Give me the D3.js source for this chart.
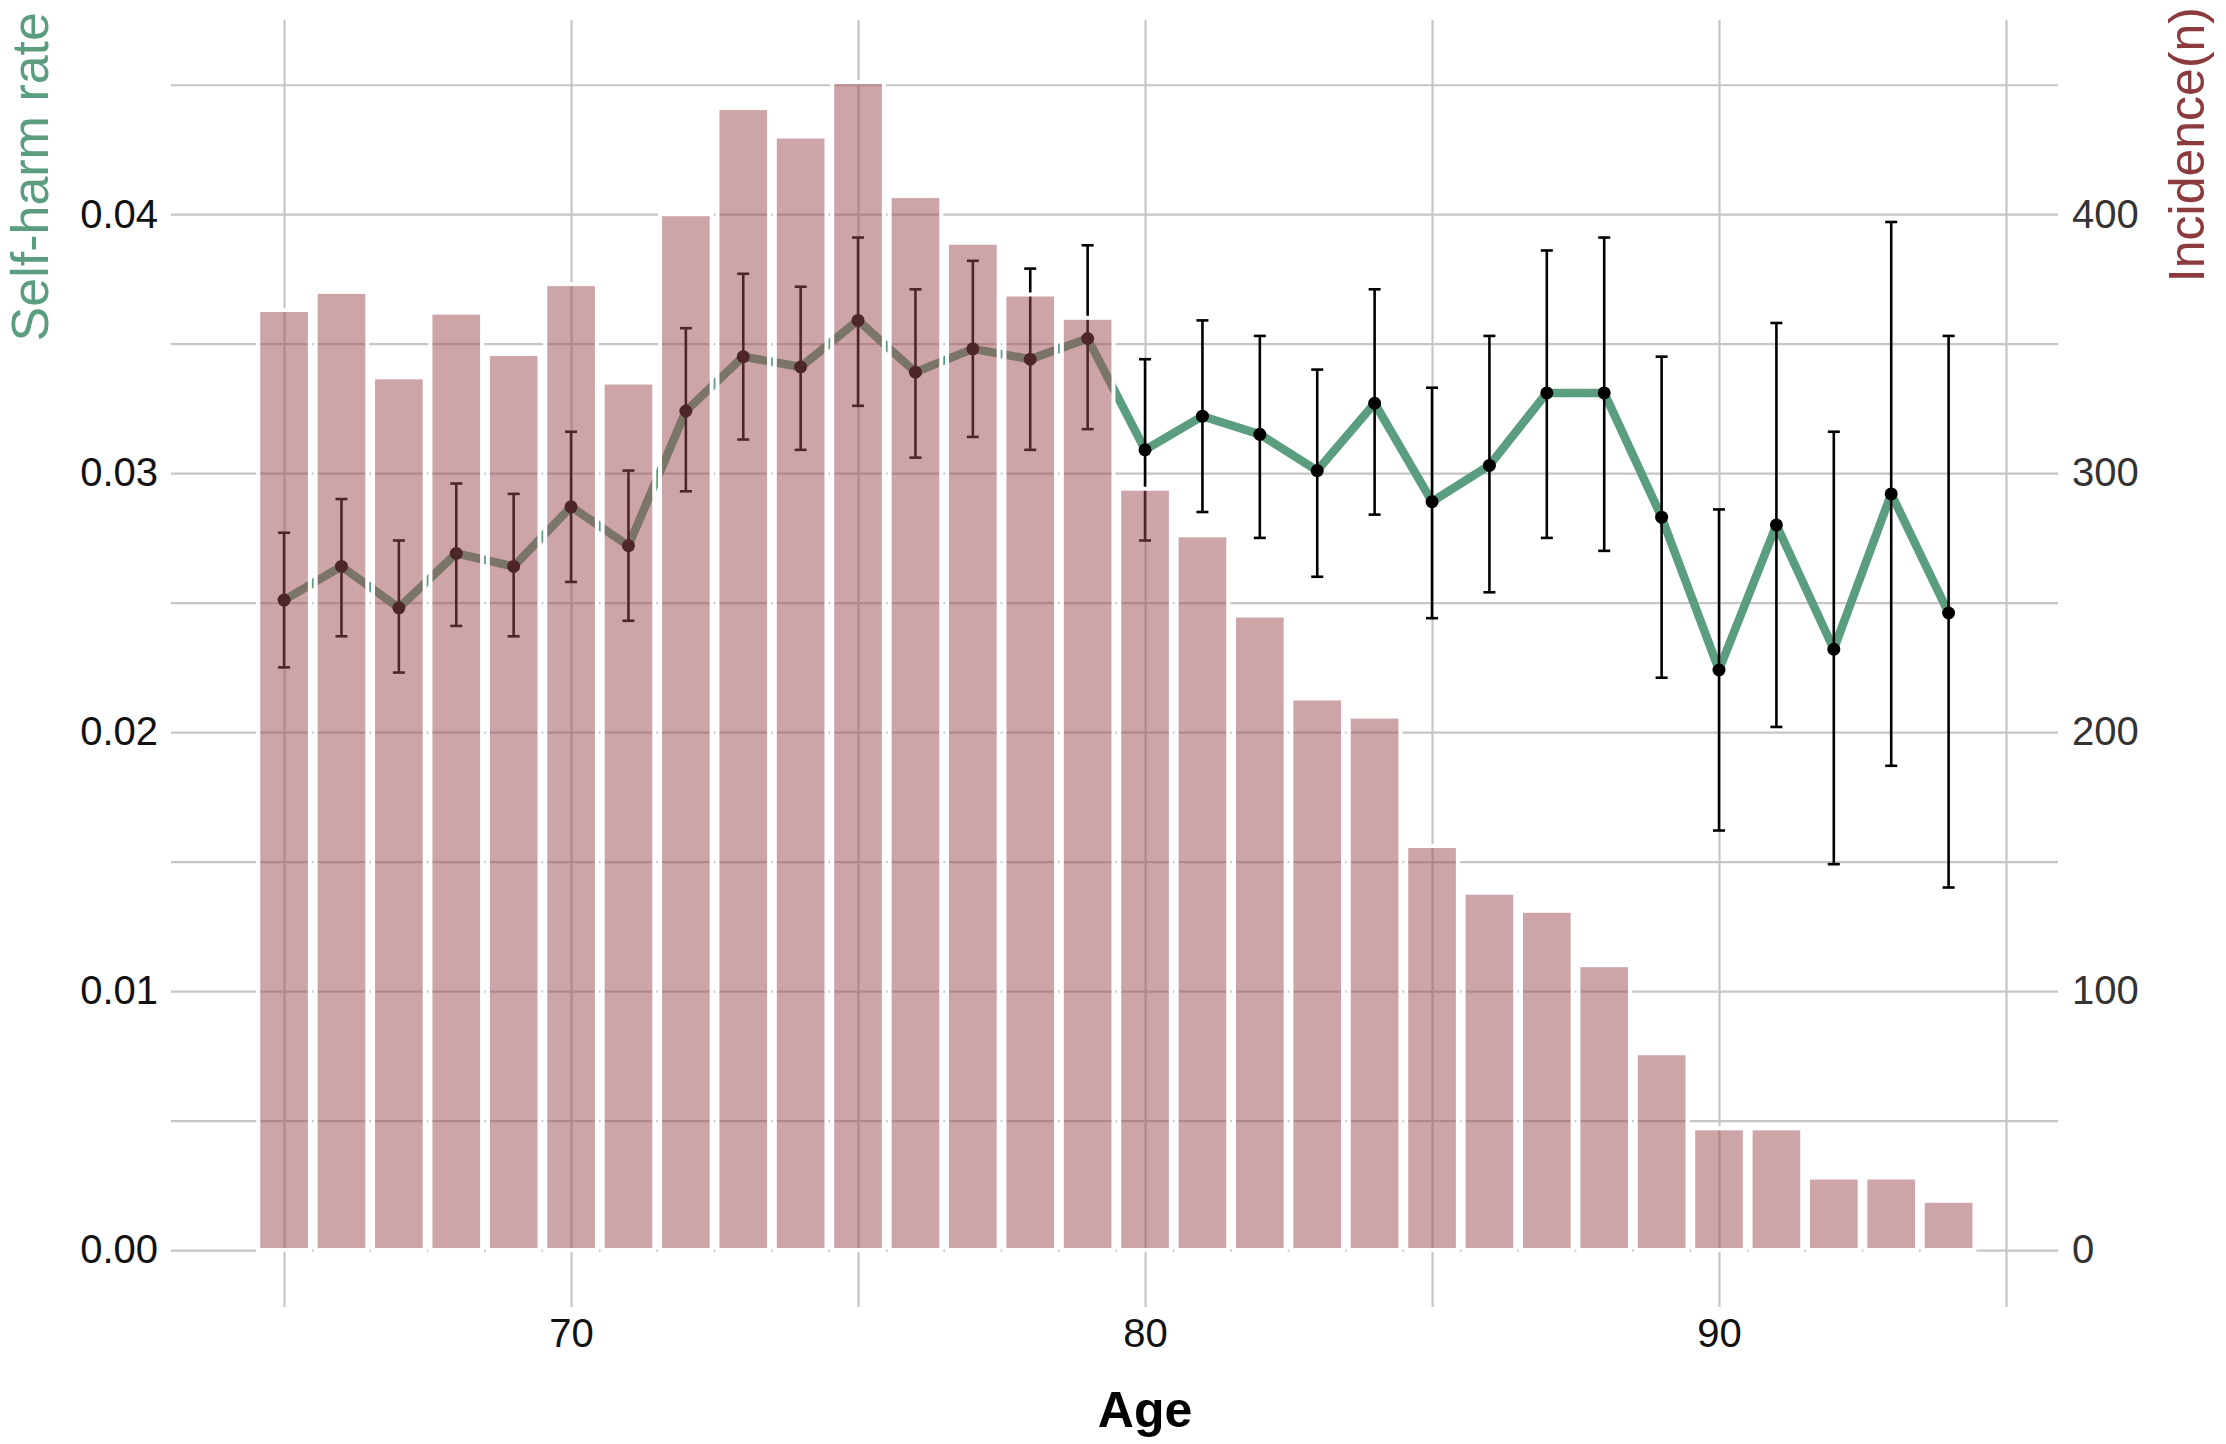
<!DOCTYPE html>
<html>
<head>
<meta charset="utf-8">
<script src="https://cdn.jsdelivr.net/npm/d3@7"></script>
<style>
  body { margin: 0; background: #fff; }
  text { font-family: "Liberation Sans", Arial, sans-serif; }
</style>
</head>
<body>
<div id="chart"></div>
<script>
const ages = [65, 66, 67, 68, 69, 70, 71, 72, 73, 74, 75, 76, 77, 78, 79,
              80, 81, 82, 83, 84, 85, 86, 87, 88, 89, 90, 91, 92, 93, 94];
const incidence = [363, 370, 337, 362, 346, 373, 335, 400, 441, 430, 451, 407, 389, 369, 360,
                   294, 276, 245, 213, 206, 156, 138, 131, 110, 76, 47, 47, 28, 28, 19];
const rate = [0.0251, 0.0264, 0.0248, 0.0269, 0.0264, 0.0287, 0.0272, 0.0324, 0.0345, 0.0341,
              0.0359, 0.0339, 0.0348, 0.0344, 0.0352, 0.0309, 0.0322, 0.0315, 0.0301, 0.0327,
              0.0289, 0.0303, 0.0331, 0.0331, 0.0283, 0.0224, 0.0280, 0.0232, 0.0292, 0.0246];
const rateLow = [0.0225, 0.0237, 0.0223, 0.0241, 0.0237, 0.0258, 0.0243, 0.0293, 0.0313, 0.0309,
                 0.0326, 0.0306, 0.0314, 0.0309, 0.0317, 0.0274, 0.0285, 0.0275, 0.0260, 0.0284,
                 0.0244, 0.0254, 0.0275, 0.0270, 0.0221, 0.0162, 0.0202, 0.0149, 0.0187, 0.0140];
const rateHigh = [0.0277, 0.0290, 0.0274, 0.0296, 0.0292, 0.0316, 0.0301, 0.0356, 0.0377, 0.0372,
                  0.0391, 0.0371, 0.0382, 0.0379, 0.0388, 0.0344, 0.0359, 0.0353, 0.0340, 0.0371,
                  0.0333, 0.0353, 0.0386, 0.0391, 0.0345, 0.0286, 0.0358, 0.0316, 0.0397, 0.0353];
const xGrid = [65, 70, 75, 80, 85, 90, 95];
const xLabels = [70, 80, 90];
const yGrid = [0, 0.005, 0.01, 0.015, 0.02, 0.025, 0.03, 0.035, 0.04, 0.045];
const yLabels = [0, 0.01, 0.02, 0.03, 0.04];
const rightLabels = [0, 100, 200, 300, 400];

const width = 2226, height = 1444;
const plotLeft = 171, plotRight = 2058, plotTop = 20, plotBottom = 1307;
const green = "#5b9e7f", maroon = "#8b3a3e";

const data = ages.map((a, i) => ({
    age: a, n: incidence[i], rate: rate[i], lo: rateLow[i], hi: rateHigh[i]
}));

const svg = d3.select("#chart").append("svg")
    .attr("width", width)
    .attr("height", height);

const x = d3.scaleLinear().domain([63.03, 95.906]).range([plotLeft, plotRight]);
const yL = d3.scaleLinear().domain([-0.0022, 0.0475]).range([plotBottom, plotTop]);
const yR = d3.scaleLinear().domain([-22, 475]).range([plotBottom, plotTop]);

// gridlines + tick labels
const xAxis = svg.append("g")
    .attr("transform", `translate(0,${plotBottom})`)
    .call(d3.axisBottom(x)
        .tickValues(xGrid)
        .tickSize(-(plotBottom - plotTop))
        .tickPadding(12)
        .tickFormat(d => xLabels.includes(d) ? d : ""));

const yAxis = svg.append("g")
    .attr("transform", `translate(${plotLeft},0)`)
    .call(d3.axisLeft(yL)
        .tickValues(yGrid)
        .tickSize(-(plotRight - plotLeft))
        .tickPadding(13)
        .tickFormat(d => yLabels.some(v => Math.abs(v - d) < 1e-9) ? d3.format(".2f")(d) : ""));

const rAxis = svg.append("g")
    .attr("transform", `translate(${plotRight},0)`)
    .call(d3.axisRight(yR)
        .tickValues(rightLabels)
        .tickSize(0)
        .tickPadding(14));

[xAxis, yAxis, rAxis].forEach(g => {
    g.select(".domain").remove();
    g.selectAll(".tick line").attr("stroke", "#c6c6c6").attr("stroke-width", 2.2);
    g.selectAll(".tick text").style("font-size", "40px").attr("fill", "#111");
});
rAxis.selectAll(".tick text").attr("fill", "#333");

// rate line
const line = d3.line()
    .x(d => x(d.age))
    .y(d => yL(d.rate));

svg.append("path")
    .datum(data)
    .attr("d", line)
    .attr("fill", "none")
    .attr("stroke", green)
    .attr("stroke-width", 8.5)
    .attr("stroke-linejoin", "round");

// error bars
const err = svg.append("g").attr("stroke", "#000").attr("stroke-width", 2.6);
err.selectAll("line.v")
    .data(data)
    .enter()
    .append("line")
    .attr("class", "v")
    .attr("x1", d => x(d.age)).attr("x2", d => x(d.age))
    .attr("y1", d => yL(d.lo)).attr("y2", d => yL(d.hi));
err.selectAll("line.cl")
    .data(data)
    .enter()
    .append("line")
    .attr("class", "cl")
    .attr("x1", d => x(d.age) - 6).attr("x2", d => x(d.age) + 6)
    .attr("y1", d => yL(d.lo)).attr("y2", d => yL(d.lo));
err.selectAll("line.ch")
    .data(data)
    .enter()
    .append("line")
    .attr("class", "ch")
    .attr("x1", d => x(d.age) - 6).attr("x2", d => x(d.age) + 6)
    .attr("y1", d => yL(d.hi)).attr("y2", d => yL(d.hi));

svg.selectAll("circle")
    .data(data)
    .enter()
    .append("circle")
    .attr("cx", d => x(d.age))
    .attr("cy", d => yL(d.rate))
    .attr("r", 6.5)
    .attr("fill", "#000");

// incidence bars sit on top, translucent
const bw = x(0.9) - x(0);
svg.selectAll("rect.bar")
    .data(data)
    .enter()
    .append("rect")
    .attr("class", "bar")
    .attr("x", d => x(d.age) - bw / 2)
    .attr("width", bw)
    .attr("y", d => yR(d.n))
    .attr("height", d => yR(0) - yR(d.n))
    .attr("fill", "#9b4b51")
    .attr("fill-opacity", 0.5)
    .attr("stroke", "#fff")
    .attr("stroke-width", 4);

// axis titles
svg.append("text")
    .attr("transform", "translate(48,12) rotate(-90)")
    .attr("text-anchor", "end")
    .style("font-size", "52px")
    .attr("fill", green)
    .text("Self-harm rate");

svg.append("text")
    .attr("transform", "translate(2204,7) rotate(-90)")
    .attr("text-anchor", "end")
    .style("font-size", "50px")
    .attr("fill", maroon)
    .text("Incidence(n)");

svg.append("text")
    .attr("x", x(80))
    .attr("y", 1427)
    .attr("text-anchor", "middle")
    .style("font-size", "50px")
    .style("font-weight", "bold")
    .attr("fill", "#000")
    .text("Age");
</script>
</body>
</html>
